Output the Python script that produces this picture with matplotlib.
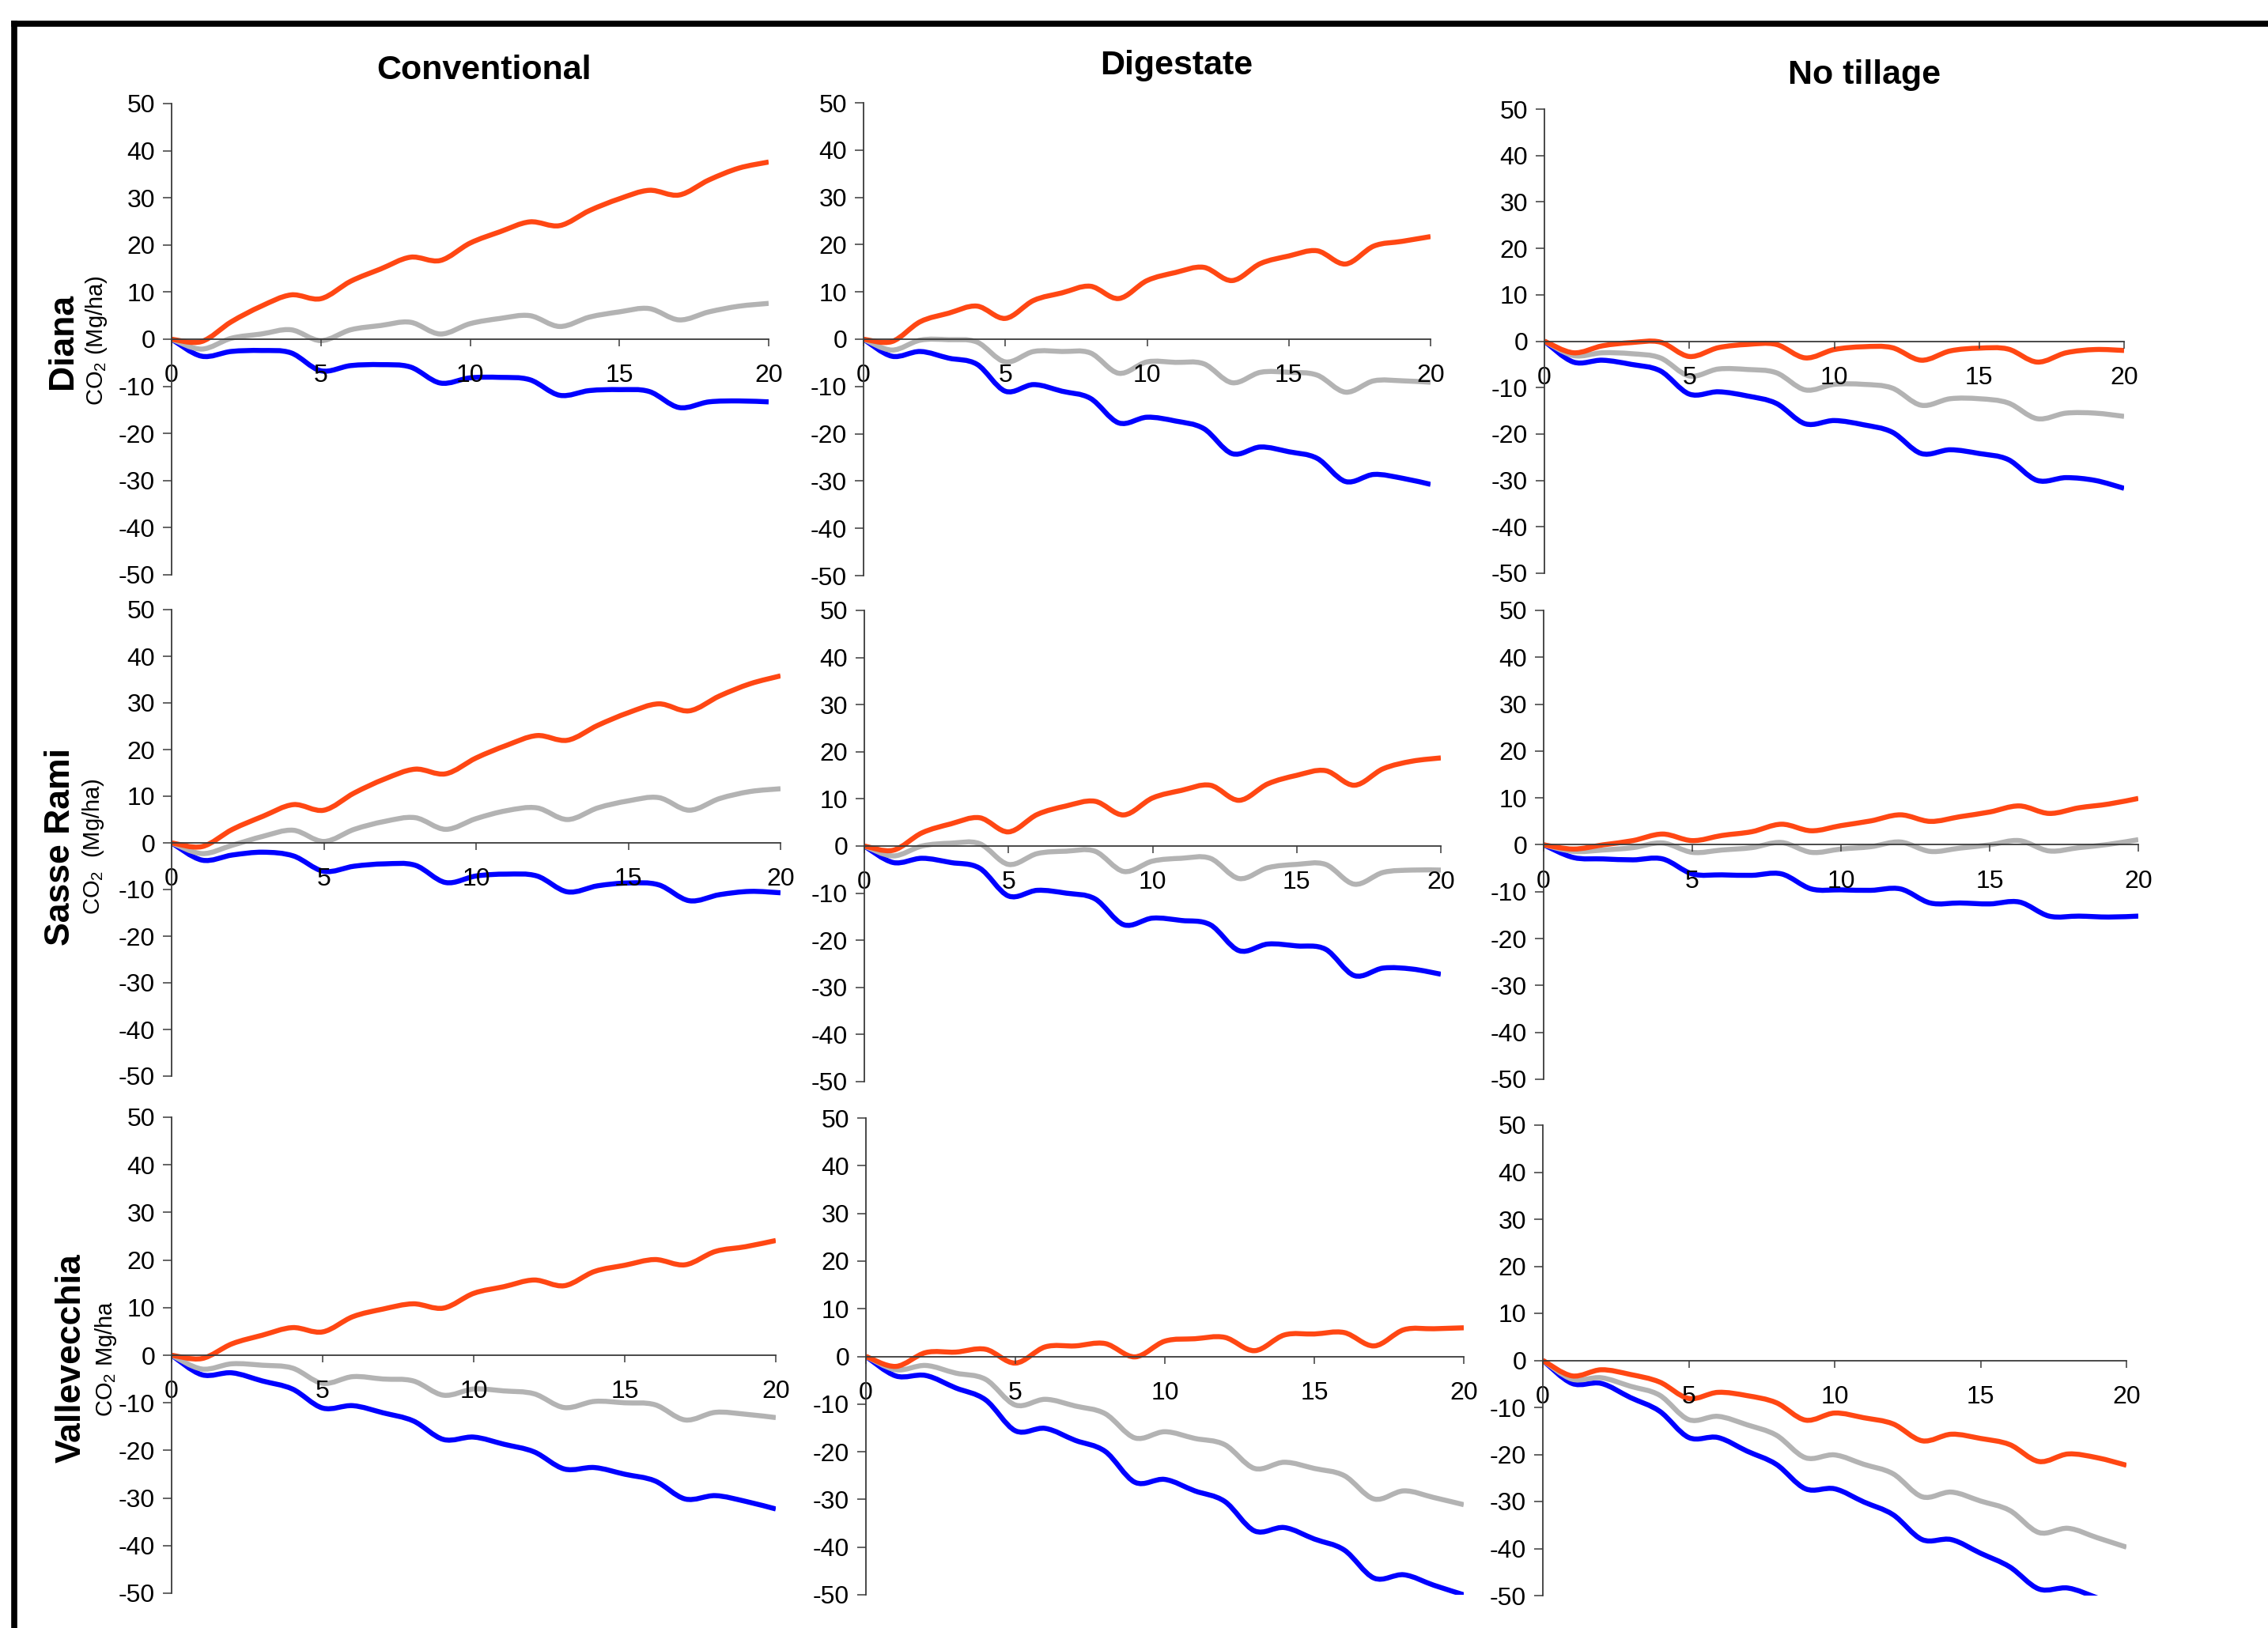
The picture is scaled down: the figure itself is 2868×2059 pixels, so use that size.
import numpy as np
import matplotlib
matplotlib.use("Agg")
import matplotlib.pyplot as plt
from matplotlib.path import Path
from matplotlib.patches import PathPatch
from matplotlib.lines import Line2D
from matplotlib import font_manager

plt.rcParams['font.family'] = ['Liberation Sans', 'DejaVu Sans']
plt.rcParams['mathtext.fontset'] = 'custom'
plt.rcParams['mathtext.rm'] = 'Liberation Sans'
plt.rcParams['mathtext.it'] = 'Liberation Sans:italic'
plt.rcParams['axes.unicode_minus'] = False

installed = {f.name for f in font_manager.fontManager.ttflist}
tick_family = 'Liberation Sans Narrow' if 'Liberation Sans Narrow' in installed else 'Liberation Sans'

years = list(range(21))
sites = ['Diana', 'Sasse Rami', 'Vallevecchia']
treatments = ['Conventional', 'Digestate', 'No tillage']
site_units = ['CO$_2$ (Mg/ha)', 'CO$_2$  (Mg/ha)', 'CO$_2$ Mg/ha']

# Diana
diana_conv_red = [0, -0.5, 3.7, 7.0, 9.4, 8.6, 12.3, 14.9, 17.4, 16.7, 20.4, 22.8, 24.9, 24.1, 27.3, 29.8, 31.6, 30.6, 33.8, 36.3, 37.6]
diana_conv_grey = [0, -2.1, 0.2, 1.1, 2.0, -0.3, 2.0, 2.9, 3.6, 1.1, 3.3, 4.4, 5.0, 2.7, 4.7, 5.8, 6.5, 4.1, 5.8, 7.0, 7.6]
diana_conv_blue = [0, -3.6, -2.6, -2.4, -2.9, -6.7, -5.6, -5.4, -5.9, -9.3, -8.2, -8.1, -8.6, -11.9, -10.9, -10.7, -11.1, -14.5, -13.3, -13.1, -13.3]

diana_dig_red = [0, -0.5, 3.7, 5.5, 7.0, 4.4, 8.2, 9.8, 11.2, 8.6, 12.4, 14.1, 15.2, 12.4, 16.0, 17.6, 18.7, 15.9, 19.7, 20.7, 21.7]
diana_dig_grey = [0, -2.3, -0.2, -0.1, -0.6, -4.8, -2.6, -2.6, -2.9, -7.2, -4.8, -4.9, -5.2, -9.2, -7.0, -7.0, -7.6, -11.2, -8.8, -8.8, -9.1]
diana_dig_blue = [0, -3.6, -2.6, -4.0, -5.3, -11.0, -9.6, -11.0, -12.5, -17.7, -16.5, -17.3, -18.9, -24.2, -22.8, -23.8, -25.2, -30.1, -28.6, -29.4, -30.7]

diana_nt_red = [0, -2.5, -1.0, -0.3, -0.2, -3.3, -1.4, -0.7, -0.7, -3.6, -1.8, -1.2, -1.4, -4.1, -2.1, -1.5, -1.7, -4.5, -2.5, -1.8, -2.0]
diana_nt_grey = [0, -3.1, -2.5, -2.7, -3.6, -7.5, -6.0, -6.1, -6.8, -10.5, -9.3, -9.3, -10.1, -13.8, -12.4, -12.4, -13.3, -16.7, -15.5, -15.5, -16.2]
diana_nt_blue = [0, -4.5, -4.1, -5.0, -6.4, -11.4, -10.9, -11.8, -13.4, -17.8, -17.1, -18.0, -19.6, -24.2, -23.4, -24.2, -25.5, -30.0, -29.4, -30.0, -31.7]

# Sasse Rami
sasse_conv_red = [0, -0.8, 2.9, 5.7, 8.2, 7.0, 10.7, 13.7, 15.8, 14.8, 18.2, 20.9, 23.0, 22.0, 25.2, 27.9, 29.8, 28.3, 31.5, 34.1, 35.8]
sasse_conv_grey = [0, -2.3, -0.5, 1.4, 2.7, 0.3, 2.9, 4.6, 5.4, 2.9, 5.2, 6.9, 7.5, 5.0, 7.5, 9.0, 9.7, 7.0, 9.5, 11.0, 11.6]
sasse_conv_blue = [0, -3.7, -2.6, -2.0, -2.8, -6.1, -5.0, -4.5, -4.8, -8.5, -7.1, -6.7, -7.1, -10.5, -9.2, -8.6, -9.0, -12.4, -11.1, -10.4, -10.7]

sasse_dig_red = [0, -0.9, 2.8, 4.7, 6.0, 3.0, 6.7, 8.5, 9.5, 6.6, 10.2, 11.8, 12.9, 9.7, 13.2, 15.0, 16.0, 12.9, 16.4, 18.0, 18.7]
sasse_dig_grey = [0, -2.1, 0.0, 0.6, 0.5, -3.9, -1.6, -1.1, -1.1, -5.4, -3.2, -2.6, -2.6, -6.9, -4.6, -3.9, -3.9, -8.1, -5.6, -5.1, -5.1]
sasse_dig_blue = [0, -3.5, -2.6, -3.5, -4.7, -10.6, -9.4, -10.0, -11.2, -16.7, -15.3, -15.8, -16.7, -22.2, -20.8, -21.2, -21.9, -27.5, -25.9, -26.1, -27.2]

sasse_nt_red = [0, -0.9, 0.0, 0.9, 2.3, 0.9, 2.0, 2.8, 4.4, 3.0, 4.1, 5.1, 6.4, 5.0, 6.0, 7.0, 8.3, 6.7, 7.9, 8.7, 9.9]
sasse_nt_grey = [0, -1.4, -1.1, -0.6, 0.4, -1.6, -1.1, -0.6, 0.5, -1.6, -0.9, -0.4, 0.6, -1.4, -0.7, 0.0, 0.9, -1.3, -0.6, 0.1, 1.1]
sasse_nt_blue = [0, -2.7, -3.0, -3.2, -3.0, -6.2, -6.4, -6.5, -6.2, -9.4, -9.6, -9.7, -9.4, -12.4, -12.4, -12.6, -12.2, -15.2, -15.2, -15.4, -15.2]

# Vallevecchia
valle_conv_red = [0, -0.7, 2.4, 4.2, 5.8, 4.9, 8.1, 9.7, 10.8, 9.9, 13.0, 14.4, 15.8, 14.6, 17.6, 18.9, 20.1, 19.0, 21.8, 22.8, 24.1]
valle_conv_grey = [0, -2.9, -1.8, -2.1, -2.7, -5.9, -4.5, -5.0, -5.4, -8.4, -7.1, -7.5, -8.1, -11.0, -9.7, -10.0, -10.4, -13.6, -12.0, -12.4, -13.1]
valle_conv_blue = [0, -4.1, -3.7, -5.4, -7.1, -11.1, -10.6, -12.1, -13.8, -17.7, -17.2, -18.7, -20.3, -23.9, -23.6, -25.0, -26.4, -30.2, -29.5, -30.7, -32.3]

valle_dig_red = [0, -2.1, 0.8, 0.9, 1.5, -1.4, 2.0, 2.2, 2.7, -0.1, 3.2, 3.7, 4.0, 1.2, 4.5, 4.7, 5.0, 2.2, 5.6, 5.8, 6.0]
valle_dig_grey = [0, -2.8, -1.9, -3.5, -4.8, -10.2, -9.0, -10.4, -12.0, -17.1, -15.8, -17.2, -18.5, -23.5, -22.2, -23.5, -25.0, -29.9, -28.2, -29.6, -31.1]
valle_dig_blue = [0, -4.1, -4.0, -6.6, -9.1, -15.6, -15.1, -17.6, -19.9, -26.4, -25.8, -28.2, -30.4, -36.6, -35.9, -38.3, -40.6, -46.5, -45.8, -48.0, -50.0]

valle_nt_red = [0, -3.3, -2.0, -3.0, -4.6, -8.1, -6.8, -7.5, -9.0, -12.7, -11.2, -12.2, -13.5, -17.1, -15.7, -16.6, -17.9, -21.5, -19.9, -20.7, -22.3]
valle_nt_grey = [0, -4.0, -3.7, -5.5, -7.4, -12.6, -11.9, -13.7, -15.9, -20.7, -20.1, -22.1, -24.1, -29.0, -28.0, -29.9, -31.9, -36.6, -35.7, -37.7, -39.7]
valle_nt_blue = [0, -4.9, -4.9, -7.9, -10.8, -16.4, -16.4, -19.3, -22.1, -27.3, -27.3, -30.1, -32.8, -38.1, -38.1, -41.0, -43.9, -48.6, -48.4, -50.5, -53.0]

panels = [
    [(diana_conv_red, diana_conv_grey, diana_conv_blue),
     (diana_dig_red, diana_dig_grey, diana_dig_blue),
     (diana_nt_red, diana_nt_grey, diana_nt_blue)],
    [(sasse_conv_red, sasse_conv_grey, sasse_conv_blue),
     (sasse_dig_red, sasse_dig_grey, sasse_dig_blue),
     (sasse_nt_red, sasse_nt_grey, sasse_nt_blue)],
    [(valle_conv_red, valle_conv_grey, valle_conv_blue),
     (valle_dig_red, valle_dig_grey, valle_dig_blue),
     (valle_nt_red, valle_nt_grey, valle_nt_blue)],
]

RED = '#FF4713'
GREY = '#B3B3B3'
BLUE = '#0000FF'

W, H = 2868, 2059

# plot boxes in pixels: left, right, top (y=50), bottom (y=-50)
boxes = [
    [(217, 972, 131, 727), (1092, 1809, 130, 728), (1953, 2686, 138, 725)],
    [(217, 987, 771, 1361), (1093, 1822, 772, 1368), (1952, 2704, 772, 1365)],
    [(217, 981, 1413, 2015), (1095, 1851, 1414, 2017), (1951, 2689, 1423, 2018)],
]


def smooth_path(x, y):
    # Excel-style smoothed line: cubic Bezier through every point
    pts = np.column_stack([x, y]).astype(float)
    n = len(pts)
    verts = [pts[0]]
    codes = [Path.MOVETO]
    for i in range(n - 1):
        p0 = pts[max(i - 1, 0)]
        p1 = pts[i]
        p2 = pts[i + 1]
        p3 = pts[min(i + 2, n - 1)]
        verts += [p1 + (p2 - p0) / 6, p2 - (p3 - p1) / 6, p2]
        codes += [Path.CURVE4] * 3
    return Path(verts, codes)


fig = plt.figure(figsize=(W / 100, H / 100), dpi=100)

for r in range(3):
    for c in range(3):
        left, right, top, bottom = boxes[r][c]
        ax = fig.add_axes([left / W, 1 - bottom / H, (right - left) / W, (bottom - top) / H])
        red, grey, blue = panels[r][c]
        for vals, col in ((blue, BLUE), (grey, GREY), (red, RED)):
            ax.add_patch(PathPatch(smooth_path(years, vals), fill=False, edgecolor=col,
                                   lw=4.6, joinstyle='round', capstyle='butt'))
        ax.set_xlim(0, 20)
        ax.set_ylim(-50, 50)
        ax.set_xticks([0, 5, 10, 15, 20])
        ax.set_yticks(range(-50, 51, 10))
        ax.spines['top'].set_visible(False)
        ax.spines['right'].set_visible(False)
        ax.spines['bottom'].set_position(('data', 0))
        for s in ('left', 'bottom'):
            ax.spines[s].set_color('#3a3a3a')
            ax.spines[s].set_linewidth(1.3)
        ax.tick_params(axis='x', direction='out', length=6.5, width=1.1, color='#3a3a3a',
                       pad=16, labelsize=23)
        ax.tick_params(axis='y', direction='out', length=8, width=1.1, color='#3a3a3a',
                       pad=7, labelsize=23)
        for lab in ax.get_xticklabels() + ax.get_yticklabels():
            lab.set_family(tick_family)
        ax.patch.set_visible(False)

# column titles
for name, x, y in zip(treatments, (612, 1488, 2358), (100, 94, 106)):
    fig.text(x / W, 1 - y / H, name, ha='center', va='baseline', fontsize=31, weight='bold')

# row labels and units
for name, unit, (xs, xu, y) in zip(sites, site_units, ((79, 122, 431), (76, 118, 1071), (90, 134, 1718))):
    fig.text(xs / W, 1 - y / H, name, rotation=90, ha='center', va='center',
             fontsize=32, weight='bold')
    fig.text(xu / W, 1 - y / H, unit, rotation=90, ha='center', va='center', fontsize=21)

# frame along the top and left edges
fig.add_artist(Line2D([18 / W, 1], [1 - 30 / H, 1 - 30 / H], color='black', lw=5.5,
                      transform=fig.transFigure, solid_capstyle='projecting'))
fig.add_artist(Line2D([18 / W, 18 / W], [1 - 30 / H, 0], color='black', lw=5.5,
                      transform=fig.transFigure, solid_capstyle='projecting'))

fig.savefig('out.png', dpi=100)
